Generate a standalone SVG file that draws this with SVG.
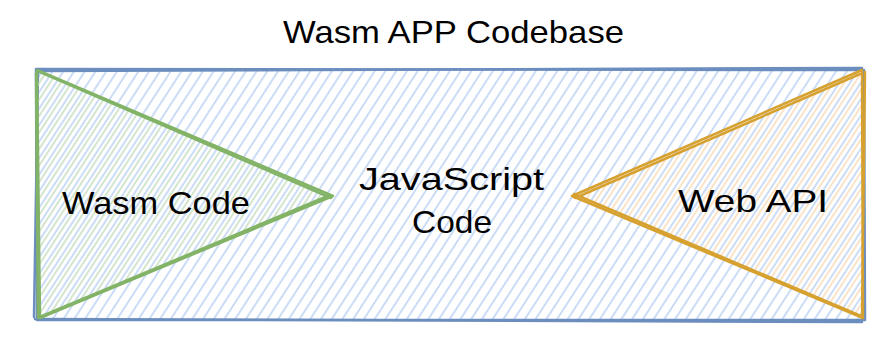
<svg xmlns="http://www.w3.org/2000/svg" width="896" height="346" viewBox="0 0 896 346">
<style>
  text { font-family: "Liberation Sans", "DejaVu Sans", sans-serif; fill: #000; font-size: 32px; }
  .edge { fill: none; stroke-linecap: round; stroke-linejoin: round; }
  .blue { stroke: #6c8ebf; stroke-width: 2.5; }
  .green { stroke: #82b366; stroke-width: 2.5; }
  .orange { stroke: #d6a12f; stroke-width: 2.5; }
</style>
<defs>
  <pattern id="hBlue" width="9" height="9" patternUnits="userSpaceOnUse" patternTransform="rotate(33)">
    <line x1="2" y1="0" x2="2" y2="9" stroke="#c6d8f5" stroke-width="1.8"/>
  </pattern>
  <pattern id="hGreen" width="9" height="9" patternUnits="userSpaceOnUse" patternTransform="rotate(33)">
    <line x1="6" y1="0" x2="6" y2="9" stroke="#cfe3c8" stroke-width="1.8"/>
  </pattern>
  <pattern id="hOrange" width="9" height="9" patternUnits="userSpaceOnUse" patternTransform="rotate(33)">
    <line x1="6" y1="0" x2="6" y2="9" stroke="#fbe0c2" stroke-width="1.8"/>
  </pattern>
</defs>
<rect width="896" height="346" fill="#ffffff"/>

<g id="title">
  <text x="283" y="43" textLength="341" lengthAdjust="spacingAndGlyphs">Wasm APP Codebase</text>
</g>

<g id="codebase">
  <rect x="36" y="69" width="828" height="251" fill="url(#hBlue)"/>
  <path class="edge blue" d="M36 69 L864 70 L865 320 L37 320 Z"/>
  <path class="edge blue" d="M38 71 L862 68 M863 72 L864 318 M862 322 L35 319 M34 317 L38 72"/>
</g>

<g id="wasm">
  <polygon points="38,71 332,196 40,318" fill="url(#hGreen)"/>
  <path class="edge green" d="M37 70 L333 196 L40 318 Z"/>
  <path class="edge green" d="M40 72 L331 198 M330 195 L42 316 M38 318 L36 73"/>
  <text x="62" y="214" textLength="188" lengthAdjust="spacingAndGlyphs">Wasm Code</text>
</g>

<g id="js">
  <text x="359" y="190" textLength="185" lengthAdjust="spacingAndGlyphs">JavaScript</text>
  <text x="412" y="233" textLength="80" lengthAdjust="spacingAndGlyphs">Code</text>
</g>

<g id="webapi">
  <polygon points="862,71 573,196 862,318" fill="url(#hOrange)"/>
  <path class="edge orange" d="M862 70 L572 196 L863 318 Z"/>
  <path class="edge orange" d="M860 74 L575 198 M574 194 L861 316 M865 72 L862 318"/>
  <text x="678" y="212" textLength="150" lengthAdjust="spacingAndGlyphs">Web API</text>
</g>

<g id="connectors"></g>
</svg>
